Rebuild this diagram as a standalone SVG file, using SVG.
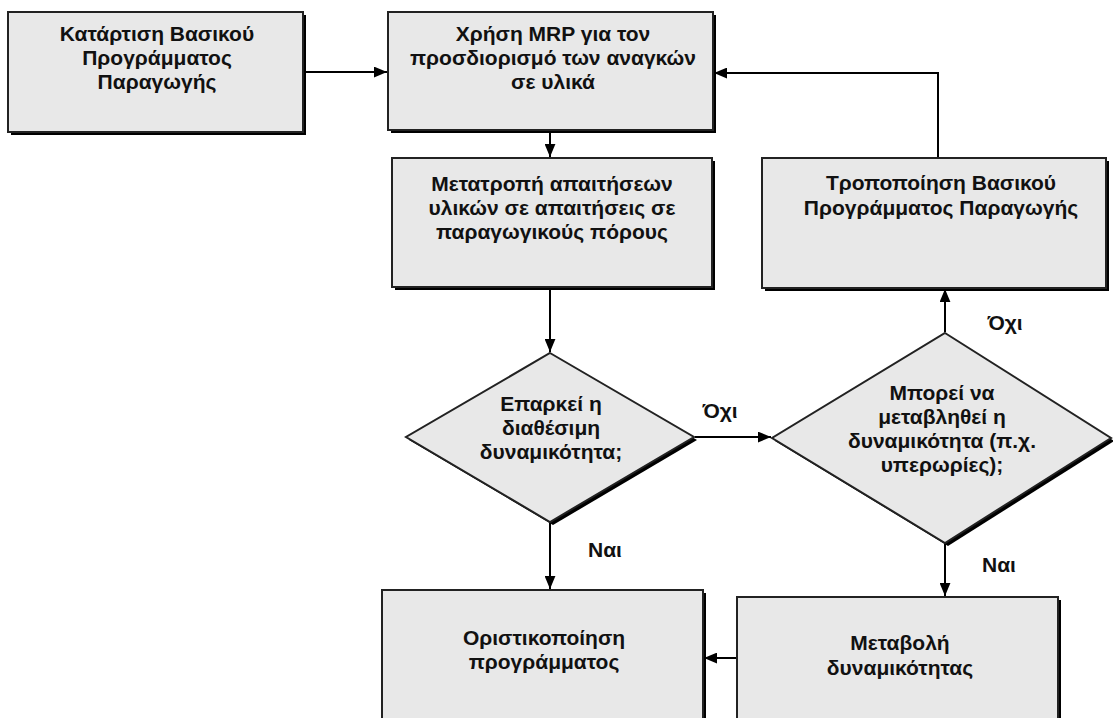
<svg xmlns="http://www.w3.org/2000/svg" width="1113" height="718" viewBox="0 0 1113 718">
  <style>
    .box { fill: #e8e8e8; stroke: #222; stroke-width: 2; }
    .shadow { fill: #000; }
    .lbl { font-family: "Liberation Sans", Arial, sans-serif; font-size: 21px; font-weight: bold; fill: #111; text-anchor: middle; }
    .edge { fill: none; stroke: #000; stroke-width: 2; }
  </style>
  <defs>
    <marker id="arrow" viewBox="0 0 12 10" refX="12" refY="5" markerWidth="13" markerHeight="11" markerUnits="userSpaceOnUse" orient="auto">
      <path d="M0,0 L12,5 L0,10 Z" fill="#000"/>
    </marker>
  </defs>
  <rect width="1113" height="718" fill="#fff"/>

  <g id="n1">
    <rect class="shadow" x="11" y="15" width="295" height="120"/>
    <rect class="box" x="8" y="12" width="295" height="120"/>
    <text class="lbl" x="157" y="41">Κατάρτιση Βασικού</text>
    <text class="lbl" x="157" y="65">Προγράμματος</text>
    <text class="lbl" x="157" y="89">Παραγωγής</text>
  </g>

  <g id="n2">
    <rect class="shadow" x="391" y="15" width="325" height="118"/>
    <rect class="box" x="388" y="12" width="325" height="118"/>
    <text class="lbl" x="553" y="41">Χρήση MRP για τον</text>
    <text class="lbl" x="553" y="65">προσδιορισμό των αναγκών</text>
    <text class="lbl" x="553" y="89">σε υλικά</text>
  </g>

  <g id="n3">
    <rect class="shadow" x="395" y="161" width="320" height="129"/>
    <rect class="box" x="392" y="158" width="320" height="129"/>
    <text class="lbl" x="552" y="191">Μετατροπή απαιτήσεων</text>
    <text class="lbl" x="552" y="215">υλικών σε απαιτήσεις σε</text>
    <text class="lbl" x="552" y="239">παραγωγικούς πόρους</text>
  </g>

  <g id="n4">
    <rect class="shadow" x="765" y="161" width="344" height="130"/>
    <rect class="box" x="762" y="158" width="344" height="130"/>
    <text class="lbl" x="941" y="190">Τροποποίηση Βασικού</text>
    <text class="lbl" x="941" y="215">Προγράμματος Παραγωγής</text>
  </g>

  <g id="d1">
    <polygon class="shadow" points="553,356 697,440 553,525 409,440"/>
    <polygon class="box" points="550,353 694,437 550,522 406,437"/>
    <text class="lbl" x="551" y="411">Επαρκεί η</text>
    <text class="lbl" x="551" y="435">διαθέσιμη</text>
    <text class="lbl" x="551" y="459">δυναμικότητα;</text>
  </g>

  <g id="d2">
    <polygon class="shadow" points="948,336 1114,441 948,546 775,441"/>
    <polygon class="box" points="945,333 1111,438 945,543 772,438"/>
    <text class="lbl" x="942" y="400">Μπορεί να</text>
    <text class="lbl" x="942" y="424">μεταβληθεί η</text>
    <text class="lbl" x="942" y="448">δυναμικότητα (π.χ.</text>
    <text class="lbl" x="942" y="472">υπερωρίες);</text>
  </g>

  <g id="n5">
    <rect class="shadow" x="385" y="593" width="321" height="140"/>
    <rect class="box" x="382" y="590" width="321" height="140"/>
    <text class="lbl" x="544" y="645">Οριστικοποίηση</text>
    <text class="lbl" x="544" y="669">προγράμματος</text>
  </g>

  <g id="n6">
    <rect class="shadow" x="740" y="600" width="321" height="140"/>
    <rect class="box" x="737" y="597" width="321" height="140"/>
    <text class="lbl" x="900" y="650">Μεταβολή</text>
    <text class="lbl" x="900" y="675">δυναμικότητας</text>
  </g>

  <g id="connectors">
    <line class="edge" x1="305" y1="72" x2="387" y2="72" marker-end="url(#arrow)"/>
    <line class="edge" x1="550" y1="132" x2="550" y2="157" marker-end="url(#arrow)"/>
    <line class="edge" x1="550" y1="290" x2="550" y2="352" marker-end="url(#arrow)"/>
    <line class="edge" x1="695" y1="437" x2="771" y2="437" marker-end="url(#arrow)"/>
    <line class="edge" x1="550" y1="523" x2="550" y2="589" marker-end="url(#arrow)"/>
    <line class="edge" x1="945" y1="332" x2="945" y2="289" marker-end="url(#arrow)"/>
    <polyline class="edge" points="938,157 938,73 714,73" marker-end="url(#arrow)"/>
    <line class="edge" x1="945" y1="544" x2="945" y2="596" marker-end="url(#arrow)"/>
    <line class="edge" x1="736" y1="658" x2="704" y2="658" marker-end="url(#arrow)"/>
    <text class="lbl" x="720" y="418">Όχι</text>
    <text class="lbl" x="1005" y="330">Όχι</text>
    <text class="lbl" x="605" y="557">Ναι</text>
    <text class="lbl" x="999" y="572">Ναι</text>
  </g>
</svg>
